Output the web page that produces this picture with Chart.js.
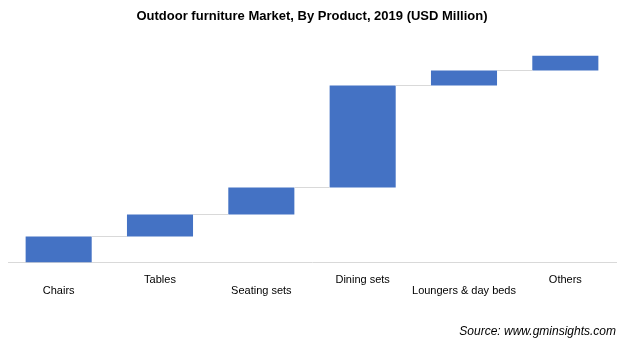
<!DOCTYPE html>
<html>
<head>
<meta charset="utf-8">
<script src="https://cdn.jsdelivr.net/npm/chart.js@4/dist/chart.umd.min.js"></script>
<style>
  html, body { margin: 0; padding: 0; background: #fff; }
  #wrap { width: 630px; height: 355px; }
</style>
</head>
<body>
<div id="wrap"><canvas id="c" width="630" height="355"></canvas></div>
<script>
// Data (relative units, USD Million scale not labelled)
const categories = ['Chairs', 'Tables', 'Seating sets', 'Dining sets', 'Loungers & day beds', 'Others'];
const increments = [26, 22, 27, 102, 15, 15];
const titleText = 'Outdoor furniture Market, By Product, 2019 (USD Million)';
const sourceText = 'Source: www.gminsights.com';

// Build floating bar ranges from increments
const ranges = [];
let running = 0;
for (const v of increments) {
  ranges.push([running, running + v]);
  running += v;
}
const total = running;

const connectorPlugin = {
  id: 'connectors',
  afterDatasetsDraw(chart) {
    const meta = chart.getDatasetMeta(0);
    const y = chart.scales.y;
    const ctx = chart.ctx;
    ctx.save();
    ctx.strokeStyle = '#d9d9d9';
    ctx.lineWidth = 1;
    for (let i = 0; i < meta.data.length - 1; i++) {
      const a = meta.data[i];
      const b = meta.data[i + 1];
      const py = Math.round(y.getPixelForValue(ranges[i][1])) - 0.5;
      ctx.beginPath();
      ctx.moveTo(a.x + a.width / 2, py);
      ctx.lineTo(b.x - b.width / 2, py);
      ctx.stroke();
    }
    ctx.restore();
  }
};

new Chart(document.getElementById('c'), {
  type: 'bar',
  data: {
    labels: categories,
    datasets: [{
      data: ranges,
      backgroundColor: '#4472C4',
      borderWidth: 0,
      categoryPercentage: 1,
      barPercentage: 0.652
    }]
  },
  options: {
    responsive: false,
    animation: false,
    events: [],
    layout: { padding: { left: 8, right: 14, top: 0, bottom: 16 } },
    plugins: {
      legend: { display: false },
      tooltip: { enabled: false },
      title: {
        display: true,
        text: titleText,
        color: '#000',
        font: { family: "'Liberation Sans', Arial, sans-serif", size: 13, weight: 'bold' },
        padding: { top: 9, bottom: 31 }
      },
      subtitle: {
        display: true,
        position: 'bottom',
        align: 'end',
        text: sourceText,
        color: '#000',
        font: { family: "'Liberation Sans', Arial, sans-serif", size: 12, style: 'italic' },
        padding: { top: 16, bottom: 0 }
      }
    },
    scales: {
      x: {
        grid: { display: false, drawTicks: false },
        border: { display: true, color: '#d9d9d9', width: 1 },
        ticks: {
          color: '#000',
          padding: 12,
          maxRotation: 0,
          autoSkip: false,
          font: { family: "'Liberation Sans', Arial, sans-serif", size: 11, lineHeight: 1.0 },
          callback: function (val, i) {
            const lbl = this.getLabelForValue(val);
            return i % 2 === 0 ? ['', lbl] : [lbl, ''];
          }
        }
      },
      y: {
        display: false,
        min: 0,
        max: total
      }
    }
  },
  plugins: [connectorPlugin]
});
</script>
</body>
</html>
